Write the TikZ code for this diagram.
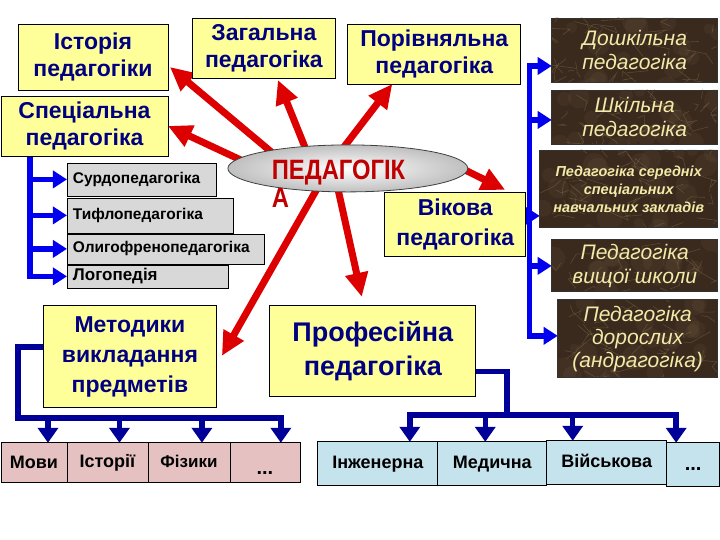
\documentclass[tikz,border=0pt]{standalone}
\usepackage{fontspec}
\setmainfont{Liberation Sans}
\newfontfamily\condfont[FakeStretch=0.85]{Liberation Sans}
\usetikzlibrary{arrows.meta,calc,shapes.geometric}
\pgfdeclarelayer{back}
\pgfdeclarelayer{bg}
\pgfdeclarelayer{tex}
\pgfsetlayers{back,bg,tex,main}
\definecolor{yel}{HTML}{FFFF99}
\definecolor{navytext}{HTML}{000080}
\definecolor{greybox}{HTML}{D8D8D8}
\definecolor{marble}{HTML}{3A2A1D}
\definecolor{veincol}{HTML}{8E7755}
\definecolor{cream}{HTML}{F3E9A8}
\definecolor{pinkbox}{HTML}{E5C1C1}
\definecolor{cyanbox}{HTML}{C4E3EC}
\definecolor{redarr}{HTML}{DD0000}
\definecolor{bluearr}{HTML}{0000EE}
\definecolor{navyarr}{HTML}{000099}
\definecolor{pedred}{HTML}{C00000}
\newcommand{\fsz}[2]{\fontsize{#1}{#2}\selectfont}
\begin{document}
\begin{tikzpicture}[x=1pt,y=-1pt,
  every node/.style={inner sep=0pt, outer sep=0pt},
  ybox/.style={draw=black, line width=0.8pt, fill=yel, text=navytext, align=center, font=\bfseries\fsz{23}{27}},
  dbox/.style={draw=black!80, line width=0.8pt, text=cream, align=center, font=\itshape\fsz{21}{24}},
  gbox/.style={draw=black, line width=0.7pt, fill=greybox, text=black, align=left, inner xsep=6pt, font=\bfseries\fsz{15.5}{18}},
  pbox/.style={draw=black, line width=0.7pt, fill=pinkbox, text=black, minimum height=40pt, font=\bfseries\fsz{18}{20}},
  cbox/.style={draw=black, line width=0.7pt, fill=cyanbox, text=black, minimum height=44pt, font=\bfseries\fsz{18}{20}},
  vein/.style={draw=veincol, line width=0.6pt, opacity=0.4},
  blob/.style={fill=veincol, opacity=0.1},
  redarrow/.style={draw=redarr, line width=7pt, -{Triangle[length=24pt,width=22pt]}},
  bluearrow/.style={draw=bluearr, line width=5.5pt, line cap=rect, -{Triangle[length=14pt,width=17pt]}},
  navyline/.style={draw=navyarr, line width=5.5pt, line cap=rect},
  navyarrow/.style={draw=navyarr, line width=5.5pt, line cap=rect, -{Triangle[length=15pt,width=20pt]}}]
\begin{pgfonlayer}{back}
\useasboundingbox[fill=white] (0,0) rectangle (720,540);
\end{pgfonlayer}

% yellow boxes
\node[ybox, minimum width=150pt, minimum height=66pt] (ist) at (93,57) {Історія\\педагогіки};
\node[ybox, minimum width=144pt, minimum height=60pt] (zag) at (264,48) {Загальна\\педагогіка};
\node[ybox, minimum width=173pt, minimum height=60pt] (por) at (434.5,54) {Порівняльна\\педагогіка};
\node[ybox, minimum width=167pt, minimum height=60pt] (spec) at (84.5,126) {Спеціальна\\педагогіка};
\node[ybox, minimum width=141pt, minimum height=65pt, font=\bfseries\fsz{23}{30}] (vik) at (455.5,224.5) {Вікова\\педагогіка};
\node[ybox, minimum width=174pt, minimum height=102pt, font=\bfseries\fsz{23}{30}] (met) at (130,357) {Методики\\викладання\\предметів};
\node[ybox, minimum width=206pt, minimum height=91pt, font=\bfseries\fsz{27}{34}] (prof) at (373,351.5) {Професійна\\педагогіка};

% dark boxes
\node[dbox, minimum width=166pt, minimum height=64pt] (dosh) at (635,50) {Дошкільна\\педагогіка};
\node[dbox, minimum width=166pt, minimum height=54pt] (shk) at (635,117) {Шкільна\\педагогіка};
\node[dbox, minimum width=178pt, minimum height=78pt, font=\bfseries\itshape\fsz{14.5}{18}] (ser) at (629,189) {Педагогіка середніх\\спеціальних\\навчальних закладів};
\node[dbox, minimum width=166pt, minimum height=52pt] (vysh) at (635,266) {Педагогіка\\вищої школи};
\node[dbox, minimum width=160pt, minimum height=78pt, font=\itshape\fsz{21}{23}] (dor) at (638,339) {Педагогіка\\дорослих\\(андрагогіка)};

% grey boxes
\node[gbox, text width=137pt, minimum height=33pt] (surdo) at (141.5,179.5) {Сурдопедагогіка};
\node[gbox, text width=154pt, minimum height=35pt] (tyflo) at (150,215.5) {Тифлопедагогіка};
\node[gbox, text width=185pt, minimum height=30pt] (oligo) at (165.5,249) {Олигофренопедагогіка};
\node[gbox, text width=149pt, minimum height=23pt, font=\bfseries\fsz{17}{19}] (logo) at (147.5,276.5) {Логопедія};

% pink cells
\node[pbox, minimum width=66pt] (movy) at (34,463) {Мови};
\node[pbox, minimum width=81pt] (ist2) at (107.5,463) {Історії};
\node[pbox, minimum width=82pt, font=\bfseries\fsz{17}{18}] (fiz) at (189,463) {\raisebox{3pt}{Фізики}};
\node[pbox, minimum width=70pt, font=\bfseries\fsz{20}{20}] (dots1) at (265,463) {\raisebox{-12pt}[0pt][0pt]{...}};

% cyan cells
\node[cbox, minimum width=120pt] (inzh) at (378,464) {Інженерна};
\node[cbox, minimum width=109pt] (med) at (492.5,464) {Медична};
\node[cbox, minimum width=120pt] (viys) at (607,463) {\raisebox{3pt}{Військова}};
\node[cbox, minimum width=53pt, font=\bfseries\fsz{20}{20}] (dots2) at (693.5,465) {\raisebox{-6pt}[0pt][0pt]{...}};

% central ellipse
\node[ellipse, draw=black!75, line width=0.8pt, inner color=white, outer color=gray!50, minimum width=240pt, minimum height=47pt] (ped) at (348,168.5) {};
\node[anchor=north west, align=left, text=pedred, font=\condfont\bfseries\fsz{28}{28}] (pedt) at (272,160) {ПЕДАГОГІК\\А};

% marble texture of the dark boxes
\begin{pgfonlayer}{tex}
\pgfmathsetseed{7}
\foreach \b in {dosh,shk,ser,vysh,dor}{
  \begin{scope}
    \clip (\b.south west) rectangle (\b.north east);
    \fill[marble] (\b.south west) rectangle (\b.north east);
    \foreach \i in {1,...,22}{
      \pgfmathsetmacro\ax{rnd*180}
      \pgfmathsetmacro\ay{rnd*80}
      \pgfmathsetmacro\ar{4+rnd*9}
      \fill[blob] ($(\b.north west)+(\ax,\ay)$) circle (\ar);
    }
    \foreach \i in {1,...,45}{
      \pgfmathsetmacro\ax{rnd*180}
      \pgfmathsetmacro\ay{rnd*80}
      \pgfmathsetmacro\dx{rand*22}
      \pgfmathsetmacro\dy{rand*12}
      \pgfmathsetmacro\ex{rand*10}
      \pgfmathsetmacro\ey{rand*10}
      \draw[vein] ($(\b.north west)+(\ax,\ay)$) -- ++(\dx,\dy) -- ++(\ex,\ey);
    }
  \end{scope}
}
\end{pgfonlayer}

\begin{pgfonlayer}{bg}
% red arrows
\draw[redarrow] ($(ped.center)+(-76,-16)$) -- ($(ist.east)+(2,10)$);
\draw[redarrow] ($(ped.center)+(-42,-19)$) -- ($(zag.south)+(14,2)$);
\draw[redarrow] ($(ped.center)+(-5,-20)$) -- ($(por.south)+(-42,0)$);
\draw[redarrow] ($(ped.center)+(-104,-7)$) -- (spec.east);
\draw[redarrow] ($(ped.center)+(108,-3)$) -- ($(vik.north)+(50,-2)$);
\draw[redarrow] ($(ped.center)+(-30,19)$) -- ($(met.east)+(5,-1)$);
\draw[redarrow] ($(ped.center)+(-10,20)$) -- ($(prof.north)+(-11,-9)$);

% left blue bracket
\coordinate (ltop) at ($(spec.south west)+(29,0)$);
\foreach \t in {surdo,tyflo,oligo,logo}
  \draw[bluearrow] (ltop) |- (\t.west);

% right blue bracket
\coordinate (rtop) at (530,66);
\draw[bluearrow] (rtop) -- ($(dosh.west)+(0,16)$);
\draw[bluearrow] (rtop) |- ($(shk.west)+(0,3)$);
\draw[bluearrow] (rtop) |- ($(ser.west)+(0,27)$);
\draw[bluearrow] (rtop) |- (vysh.west);
\draw[bluearrow] (rtop) |- ($(dor.west)+(0,-3)$);

% methods connectors
\coordinate (mj) at (18,418);
\draw[navyline] ($(met.west)+(0,-10)$) -| (mj);
\draw[navyarrow] (mj) -| ($(movy.north)+(14,0)$);
\draw[navyarrow] (mj) -| ($(ist2.north)+(12,0)$);
\draw[navyarrow] (mj) -| ($(fiz.north)+(13,0)$);
\draw[navyarrow] (mj) -| ($(dots1.north)+(16,0)$);

% professional connectors
\coordinate (pj) at (507,415);
\draw[navyline] ($(prof.east)+(0,20)$) -| (pj);
\draw[navyarrow] (pj) -| ($(inzh.north)+(32,0)$);
\draw[navyarrow] (pj) -| ($(med.north)+(-7,0)$);
\draw[navyarrow] (pj) -| ($(viys.north)+(-34,0)$);
\draw[navyarrow] (pj) -| ($(dots2.north)+(-17,0)$);
\end{pgfonlayer}
\end{tikzpicture}
\end{document}
